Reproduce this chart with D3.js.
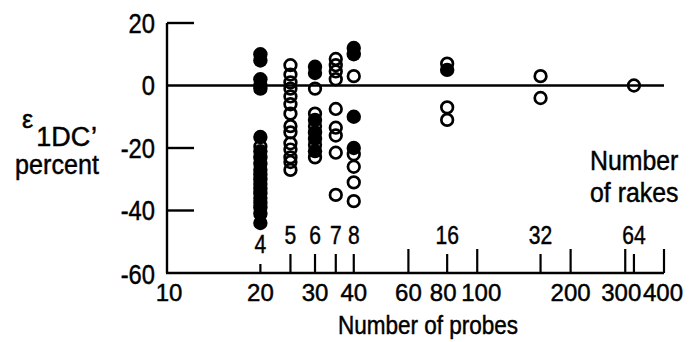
<!DOCTYPE html>
<html><head><meta charset="utf-8">
<script src="https://cdn.jsdelivr.net/npm/d3@7"></script>
<style>
body{margin:0;background:#fff;}
text{font-family:"Liberation Sans",Arial,sans-serif;font-size:27px;fill:#000;stroke:#000;stroke-width:0.45px;}
</style></head>
<body><svg id="c" width="689" height="342"></svg>
<script>
const probeTicks = [10,20,30,40,60,80,100,200,300,400];
const probeOnlyTicks = [60,100,200,300,400];
const rakeProbes = [20,25,30,35,40,80,160,320];
const rakeLabels = ["4","5","6","7","8","16","32","64"];
const yTicks = [20,0,-20,-40,-60];
const filledX = [20,20,20,20,20, 20,20,20,20,20,20,20,20,20,20,20,20,20,20,20,
  30,30,30,30,30,30, 40,40,40,40, 80];
const filledY = [10,8,2,0,-1, -16.5,-21,-23,-25,-27,-28.5,-30,-31.5,-33,-34.5,-36,-37.5,-39,-41,-44,
  6,4,-11,-15,-17,-21, 12,10,-10,-20, 5];
const openX = [20,
  25,25,25,25,25,25,25,25,25,25,25,25,25,25,
  30,30,30,30,30,
  35,35,35,35,35,35,35,35,35,
  40,40,40,40,40,
  80,80,80, 160,160, 320];
const openY = [-19.5,
  6.5,3.5,1,-1,-3.5,-6,-9,-13,-15,-18.5,-20.5,-23,-24.5,-27,
  -1,-9,-13,-19,-23,
  8.5,6.5,4.5,2,-7.5,-13.5,-16,-21.5,-35,
  3,-22,-26,-31,-37,
  7,-7,-11, 3,-4, 0];

const svg = d3.select("#c");
const x = d3.scaleLog().domain([10,400]).range([167,664]);
const y = d3.scaleLinear().domain([-60,20]).range([273,23]);

function condense(sel, k){
  sel.each(function(){
    const w = this.getComputedTextLength();
    this.setAttribute("textLength", (w*k).toFixed(1));
    this.setAttribute("lengthAdjust","spacingAndGlyphs");
  });
}

svg.append("line").attr("x1",x(10)).attr("x2",x(10)).attr("y1",y(20)).attr("y2",y(-60))
  .attr("stroke","#000").attr("stroke-width",2.4);
svg.append("line").attr("x1",x(10)-1).attr("x2",x(400)).attr("y1",y(-60)).attr("y2",y(-60))
  .attr("stroke","#000").attr("stroke-width",2.4);
svg.append("line").attr("x1",x(10)).attr("x2",x(400)).attr("y1",y(0)).attr("y2",y(0))
  .attr("stroke","#000").attr("stroke-width",2.6);
svg.selectAll(".yt").data(yTicks.filter(d=>d!==0&&d!==-60)).enter().append("line")
  .attr("x1",x(10)).attr("x2",x(10)+27).attr("y1",d=>y(d)).attr("y2",d=>y(d))
  .attr("stroke","#000").attr("stroke-width",2.4);
const ylab = svg.selectAll(".yl").data(yTicks).enter().append("text")
  .attr("x",155).attr("y",d=>y(d)+(d===-60?1:0)).attr("dy","0.36em").attr("text-anchor","end")
  .text(d=>String(d));
condense(ylab, 0.88);

const tickLen = v => v===20 ? 9 : (probeOnlyTicks.includes(v) ? 24 : (v===300?22:19));
const allTicks = Array.from(new Set([...rakeProbes, ...probeOnlyTicks]));
svg.selectAll(".xt").data(allTicks).enter().append("line")
  .attr("x1",d=>x(d)).attr("x2",d=>x(d)).attr("y1",y(-60)).attr("y2",d=>y(-60)-tickLen(d))
  .attr("stroke","#000").attr("stroke-width",2.2);
svg.selectAll(".xl").data(probeTicks).enter().append("text")
  .attr("x",d=>x(d)+(d===10?2:(d===80?-4:(d===100?4:(d===300?-4:(d===400?-1:0)))))).attr("y",301)
  .attr("text-anchor","middle").style("font-size","24px").text(d=>String(d));
const rlab = svg.selectAll(".rl").data(rakeProbes).enter().append("text")
  .attr("x",d=>x(d)).attr("y",(d,i)=>i===0?253:244).attr("text-anchor","middle")
  .style("font-size","25px").text((d,i)=>rakeLabels[i]);
condense(rlab, 0.84);

const t1 = svg.append("text").attr("x",428).attr("y",334).attr("text-anchor","middle")
  .style("font-size","25px").text("Number of probes");
condense(t1, 0.9);
const t2 = svg.append("text").attr("x",590).attr("y",170).style("font-size","27px").text("Number");
const t3 = svg.append("text").attr("x",590).attr("y",202).style("font-size","27px").text("of rakes");
condense(t2, 0.92); condense(t3, 0.92);
const yl = svg.append("text").attr("x",22).attr("y",128);
yl.append("tspan").style("font-size","25px").text("ε");
yl.append("tspan").attr("dx",3).attr("dy",18).text("1DC");
yl.append("tspan").attr("dy",-16).text(",");
const pc = svg.append("text").attr("x",57).attr("y",174).attr("text-anchor","middle").text("percent");
condense(pc, 0.93);

const filled = filledX.map((v,i)=>[v,filledY[i]]);
const open = openX.map((v,i)=>[v,openY[i]]);
svg.selectAll(".op").data(open).enter().append("circle")
  .attr("cx",d=>x(d[0])).attr("cy",d=>y(d[1])).attr("r",5.8)
  .attr("fill","none").attr("stroke","#000").attr("stroke-width",2.7);
svg.selectAll(".fp").data(filled).enter().append("circle")
  .attr("cx",d=>x(d[0])).attr("cy",d=>y(d[1])).attr("r",7.2)
  .attr("fill","#000");
</script></body></html>
